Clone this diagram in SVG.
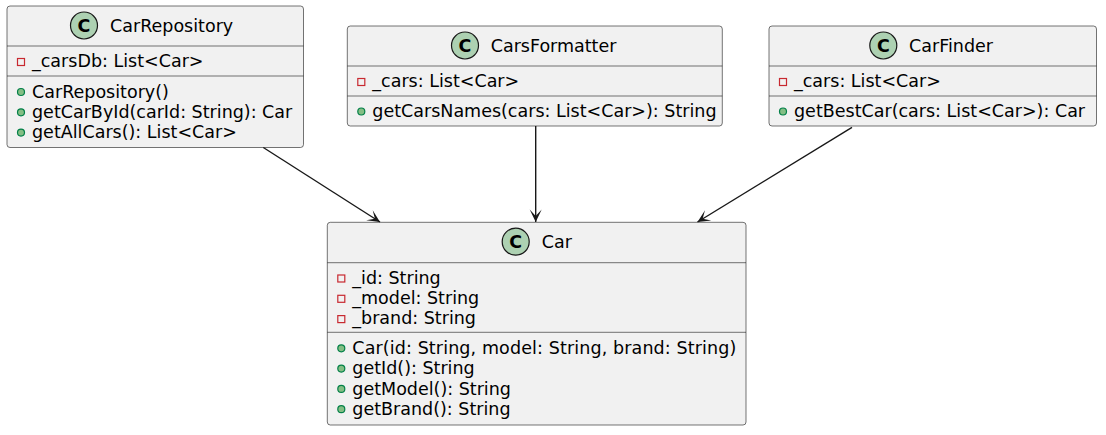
<svg xmlns="http://www.w3.org/2000/svg" width="1106" height="435" viewBox="0 0 1106 435">
<defs>
<style>
.box{fill:#F1F1F1;stroke:#181818;stroke-width:0.6}
.sep{stroke:#181818;stroke-width:0.6}
.ci{fill:#ADD1B2;stroke:#181818;stroke-width:1.2}
.cl{font-family:"DejaVu Sans",sans-serif;font-weight:bold;font-size:17.5px;fill:#000;text-anchor:middle}
.title{font-family:"DejaVu Sans",sans-serif;font-size:17.5px;fill:#000}
.mem{font-family:"DejaVu Sans",sans-serif;font-size:17.5px;fill:#000}
.priv{fill:none;stroke:#C82930;stroke-width:1.2}
.pub{fill:#84BE84;stroke:#038048;stroke-width:1.2}
.edge{stroke:#181818;stroke-width:1.4;fill:none}
</style>
<marker id="arr" markerUnits="userSpaceOnUse" markerWidth="16" markerHeight="14" viewBox="-14 -7 16 14" refX="0" refY="0" orient="auto">
<path d="M0,0 L-12.5,-6 L-6,0 L-12.5,6 Z" fill="#181818"/>
</marker>
</defs>
<rect width="1106" height="435" fill="#FFFFFF"/>

<g id="CarRepository">
<rect class="box" x="7" y="6" width="296.5" height="141.5" rx="3"/>
<circle class="ci" cx="84" cy="25.5" r="13.5"/>
<text class="cl" x="84" y="31.8">C</text>
<text class="title" x="110" y="32">CarRepository</text>
<line class="sep" x1="7" y1="46" x2="303.5" y2="46"/>
<rect class="priv" x="17.5" y="58.5" width="7" height="7"/>
<text class="mem" x="32" y="67">_carsDb: List&lt;Car&gt;</text>
<line class="sep" x1="7" y1="76" x2="303.5" y2="76"/>
<circle class="pub" cx="21" cy="92" r="3.5"/>
<text class="mem" x="32" y="97.5">CarRepository()</text>
<circle class="pub" cx="21" cy="112.3" r="3.5"/>
<text class="mem" x="32" y="117.8">getCarById(carId: String): Car</text>
<circle class="pub" cx="21" cy="132.6" r="3.5"/>
<text class="mem" x="32" y="138.1">getAllCars(): List&lt;Car&gt;</text>
</g>

<g id="CarsFormatter">
<rect class="box" x="347.3" y="26" width="375" height="100" rx="3"/>
<circle class="ci" cx="465" cy="45.5" r="13.5"/>
<text class="cl" x="465" y="51.8">C</text>
<text class="title" x="490.7" y="52">CarsFormatter</text>
<line class="sep" x1="347.3" y1="66" x2="722.3" y2="66"/>
<rect class="priv" x="357.8" y="78.5" width="7" height="7"/>
<text class="mem" x="372.3" y="87">_cars: List&lt;Car&gt;</text>
<line class="sep" x1="347.3" y1="96" x2="722.3" y2="96"/>
<circle class="pub" cx="361.3" cy="111.5" r="3.5"/>
<text class="mem" x="372.3" y="117">getCarsNames(cars: List&lt;Car&gt;): String</text>
</g>

<g id="CarFinder">
<rect class="box" x="769" y="26" width="327.5" height="100" rx="3"/>
<circle class="ci" cx="883.3" cy="45.5" r="13.5"/>
<text class="cl" x="883.3" y="51.8">C</text>
<text class="title" x="909" y="52">CarFinder</text>
<line class="sep" x1="769" y1="66" x2="1096.5" y2="66"/>
<rect class="priv" x="779.5" y="78.5" width="7" height="7"/>
<text class="mem" x="794" y="87">_cars: List&lt;Car&gt;</text>
<line class="sep" x1="769" y1="96" x2="1096.5" y2="96"/>
<circle class="pub" cx="783" cy="111.5" r="3.5"/>
<text class="mem" x="794" y="117">getBestCar(cars: List&lt;Car&gt;): Car</text>
</g>

<g id="Car">
<rect class="box" x="327.3" y="222.3" width="418.7" height="202.7" rx="3"/>
<circle class="ci" cx="515.7" cy="241.7" r="13.5"/>
<text class="cl" x="515.7" y="248">C</text>
<text class="title" x="541.7" y="248.3">Car</text>
<line class="sep" x1="327.3" y1="262.7" x2="746" y2="262.7"/>
<rect class="priv" x="337.8" y="275" width="7" height="7"/>
<text class="mem" x="352.3" y="283.5">_id: String</text>
<rect class="priv" x="337.8" y="295.3" width="7" height="7"/>
<text class="mem" x="352.3" y="303.8">_model: String</text>
<rect class="priv" x="337.8" y="315.6" width="7" height="7"/>
<text class="mem" x="352.3" y="324.1">_brand: String</text>
<line class="sep" x1="327.3" y1="332.3" x2="746" y2="332.3"/>
<circle class="pub" cx="341.3" cy="348.3" r="3.5"/>
<text class="mem" x="352.3" y="354" textLength="384" lengthAdjust="spacing">Car(id: String, model: String, brand: String)</text>
<circle class="pub" cx="341.3" cy="368.6" r="3.5"/>
<text class="mem" x="352.3" y="374.3">getId(): String</text>
<circle class="pub" cx="341.3" cy="388.9" r="3.5"/>
<text class="mem" x="352.3" y="394.6">getModel(): String</text>
<circle class="pub" cx="341.3" cy="409.2" r="3.5"/>
<text class="mem" x="352.3" y="414.9">getBrand(): String</text>
</g>

<g id="connectors">
<line class="edge" x1="263.3" y1="147.5" x2="380" y2="222" marker-end="url(#arr)"/>
<line class="edge" x1="535.7" y1="126" x2="535.7" y2="222" marker-end="url(#arr)"/>
<line class="edge" x1="852" y1="127.3" x2="697.5" y2="222" marker-end="url(#arr)"/>
</g>
</svg>
